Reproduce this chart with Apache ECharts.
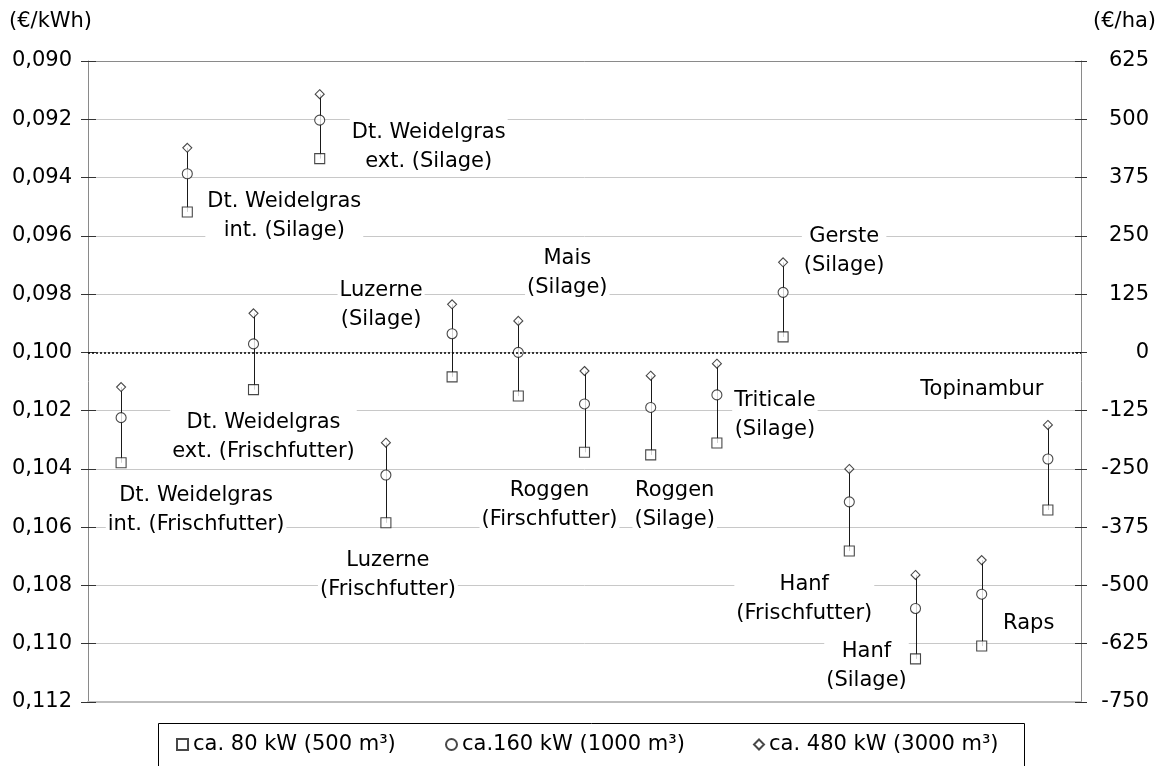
<!DOCTYPE html>
<html>
<head>
<meta charset="utf-8">
<script src="https://cdn.jsdelivr.net/npm/echarts@6/dist/echarts.min.js"></script>
<style>
html,body{margin:0;padding:0;background:#fff;}
#chart{width:1162px;height:766px;}
</style>
</head>
<body>
<div id="chart"></div>
<script>
// ---- data ----
const categories = [
  'Dt. Weidelgras\nint. (Frischfutter)',
  'Dt. Weidelgras\nint. (Silage)',
  'Dt. Weidelgras\next. (Frischfutter)',
  'Dt. Weidelgras\next. (Silage)',
  'Luzerne\n(Frischfutter)',
  'Luzerne\n(Silage)',
  'Mais\n(Silage)',
  'Roggen\n(Firschfutter)',
  'Roggen\n(Silage)',
  'Triticale\n(Silage)',
  'Gerste\n(Silage)',
  'Hanf\n(Frischfutter)',
  'Hanf\n(Silage)',
  'Raps',
  'Topinambur'
];
const seriesNames = ['ca. 80 kW (500 m³)', 'ca.160 kW (1000 m³)', 'ca. 480 kW (3000 m³)'];
// €/kWh
const kw80  = [0.10379, 0.09518, 0.10128, 0.09335, 0.10585, 0.10084, 0.10150, 0.10343, 0.10352, 0.10311, 0.09947, 0.10682, 0.11052, 0.11008, 0.10541];
const kw160 = [0.10224, 0.09387, 0.09971, 0.09203, 0.10421, 0.09936, 0.10000, 0.10177, 0.10189, 0.10146, 0.09794, 0.10513, 0.10879, 0.10830, 0.10366];
const kw480 = [0.10119, 0.09298, 0.09866, 0.09114, 0.10310, 0.09835, 0.09892, 0.10064, 0.10080, 0.10039, 0.09691, 0.10400, 0.10764, 0.10713, 0.10249];
// axes
const leftAxis  = {min: 0.090, max: 0.112, interval: 0.002};
const rightAxis = {min: -750, max: 625, interval: 125};
const refLine = 0.100;

// ---- layout of crop labels (pixel offset from the 160 kW marker) ----
const labelOffsets = [
  [75, 92], [97, 42], [10, 93], [109, 27], [2, 100], [-71, -29], [49, -79],
  [-35, 101], [24, 98], [58, 20], [61, -41], [-45, 97], [-49, 58], [47, 29], [-66, -69]
];

const FONT = 'DejaVu Sans';
const FS = 21;

const chart = echarts.init(document.getElementById('chart'), null, {renderer: 'canvas'});

const idx = categories.map((c, i) => i);
const rangeData = idx.map(i => [i, kw480[i], kw80[i]]);
const labelData = idx.map(i => [i, kw160[i]]);

const markerStyle = {color: '#fff', borderColor: '#1a1a1a', borderWidth: 1.1};

function yAxisBase(extra) {
  return Object.assign({
    type: 'value',
    min: leftAxis.min, max: leftAxis.max, interval: leftAxis.interval,
    inverse: true
  }, extra);
}

const option = {
  animation: false,
  backgroundColor: '#fff',
  title: [
    {text: '(€/kWh)', left: 9, top: 11, padding: 0,
     textStyle: {fontFamily: FONT, fontSize: FS, fontWeight: 'normal', color: '#000'}},
    {text: '(€/ha)', right: 6, top: 11, padding: 0,
     textStyle: {fontFamily: FONT, fontSize: FS, fontWeight: 'normal', color: '#000'}}
  ],
  grid: {left: 88, right: 81, top: 61, bottom: 64, containLabel: false},
  xAxis: [
    {type: 'value', min: -0.5, max: 14.5, position: 'bottom',
     axisLine: {show: true, onZero: false, lineStyle: {color: '#bdbdbd', width: 2}},
     axisTick: {show: false}, axisLabel: {show: false}, splitLine: {show: false}},
    {type: 'value', min: -0.5, max: 14.5, position: 'top',
     axisLine: {show: true, onZero: false, lineStyle: {color: '#8a8a8a', width: 1}},
     axisTick: {show: false}, axisLabel: {show: false}, splitLine: {show: false}}
  ],
  yAxis: [
    yAxisBase({
      position: 'left',
      axisLine: {show: true, onZero: false, lineStyle: {color: '#8a8a8a', width: 1}},
      axisTick: {show: true, inside: false, length: 7, lineStyle: {color: '#333'}},
      axisLabel: {show: true, margin: 16, fontFamily: FONT, fontSize: FS, color: '#000',
        showMinLabel: true, showMaxLabel: true,
        formatter: v => v.toFixed(3).replace('.', ',')},
      splitLine: {show: true, lineStyle: {color: '#c8c8c8', width: 1}}
    }),
    {
      type: 'value', position: 'right',
      min: rightAxis.min, max: rightAxis.max, interval: rightAxis.interval,
      axisLine: {show: true, onZero: false, lineStyle: {color: '#8a8a8a', width: 1}},
      axisTick: {show: true, inside: false, length: 6, lineStyle: {color: '#333'}},
      axisLabel: {show: true, margin: 68, align: 'right', fontFamily: FONT, fontSize: FS, color: '#000',
        showMinLabel: true, showMaxLabel: true},
      splitLine: {show: false}
    },
    yAxisBase({
      position: 'left',
      axisLine: {show: false, onZero: false},
      axisTick: {show: true, inside: true, length: 8, lineStyle: {color: '#333'}},
      axisLabel: {show: false}, splitLine: {show: false}
    }),
    {
      type: 'value', position: 'right',
      min: rightAxis.min, max: rightAxis.max, interval: rightAxis.interval,
      axisLine: {show: false, onZero: false},
      axisTick: {show: true, inside: true, length: 6, lineStyle: {color: '#333'}},
      axisLabel: {show: false}, splitLine: {show: false}
    }
  ],
  legend: [
    {data: [seriesNames[0]], left: 176, top: 734, padding: 0, itemWidth: 11, itemHeight: 11,
     textStyle: {fontFamily: FONT, fontSize: FS, color: '#000'}},
    {data: [seriesNames[1]], left: 445, top: 734, padding: 0, itemWidth: 11, itemHeight: 11,
     textStyle: {fontFamily: FONT, fontSize: FS, color: '#000'}},
    {data: [seriesNames[2]], left: 753, top: 734, padding: 0, itemWidth: 10, itemHeight: 10,
     textStyle: {fontFamily: FONT, fontSize: FS, color: '#000'}}
  ],
  graphic: [
    {type: 'rect', shape: {x: 158.5, y: 723.5, width: 866, height: 70},
     style: {fill: 'none', stroke: '#000', lineWidth: 1}, silent: true}
  ],
  series: [
    {
      type: 'custom', name: 'range', coordinateSystem: 'cartesian2d',
      xAxisIndex: 0, yAxisIndex: 0, z: 2,
      encode: {x: 0, y: [1, 2]},
      data: rangeData,
      renderItem: function (params, api) {
        const a = api.coord([api.value(0), api.value(1)]);
        const b = api.coord([api.value(0), api.value(2)]);
        const x = Math.round(a[0]) + 0.5;
        return {type: 'line', shape: {x1: x, y1: a[1], x2: x, y2: b[1]},
                style: {stroke: '#1a1a1a', lineWidth: 1}};
      },
      markLine: {
        silent: true, symbol: 'none', label: {show: false},
        lineStyle: {color: '#000', type: [2, 2], width: 1.5},
        data: [{yAxis: refLine}]
      }
    },
    {
      type: 'custom', name: 'labels', coordinateSystem: 'cartesian2d',
      xAxisIndex: 0, yAxisIndex: 0, z: 1,
      encode: {x: 0, y: 1},
      data: labelData,
      renderItem: function (params, api) {
        const p = api.coord([api.value(0), api.value(1)]);
        const i = params.dataIndex;
        return {type: 'text', x: p[0] + labelOffsets[i][0], y: p[1] + labelOffsets[i][1],
          style: {text: categories[i], fontFamily: FONT, fontSize: FS, fill: '#000',
                  align: 'center', verticalAlign: 'middle', lineHeight: 29,
                  backgroundColor: '#fff', padding: [0, 2]}};
      }
    },
    {
      type: 'scatter', name: seriesNames[0], xAxisIndex: 0, yAxisIndex: 0, z: 3,
      symbol: 'rect', symbolSize: 10, itemStyle: markerStyle,
      data: idx.map(i => [i, kw80[i]])
    },
    {
      type: 'scatter', name: seriesNames[1], xAxisIndex: 0, yAxisIndex: 0, z: 3,
      symbol: 'circle', symbolSize: 10, itemStyle: markerStyle,
      data: idx.map(i => [i, kw160[i]])
    },
    {
      type: 'scatter', name: seriesNames[2], xAxisIndex: 0, yAxisIndex: 0, z: 3,
      symbol: 'diamond', symbolSize: [9, 9], itemStyle: markerStyle,
      data: idx.map(i => [i, kw480[i]])
    }
  ]
};
chart.setOption(option);
</script>
</body>
</html>
